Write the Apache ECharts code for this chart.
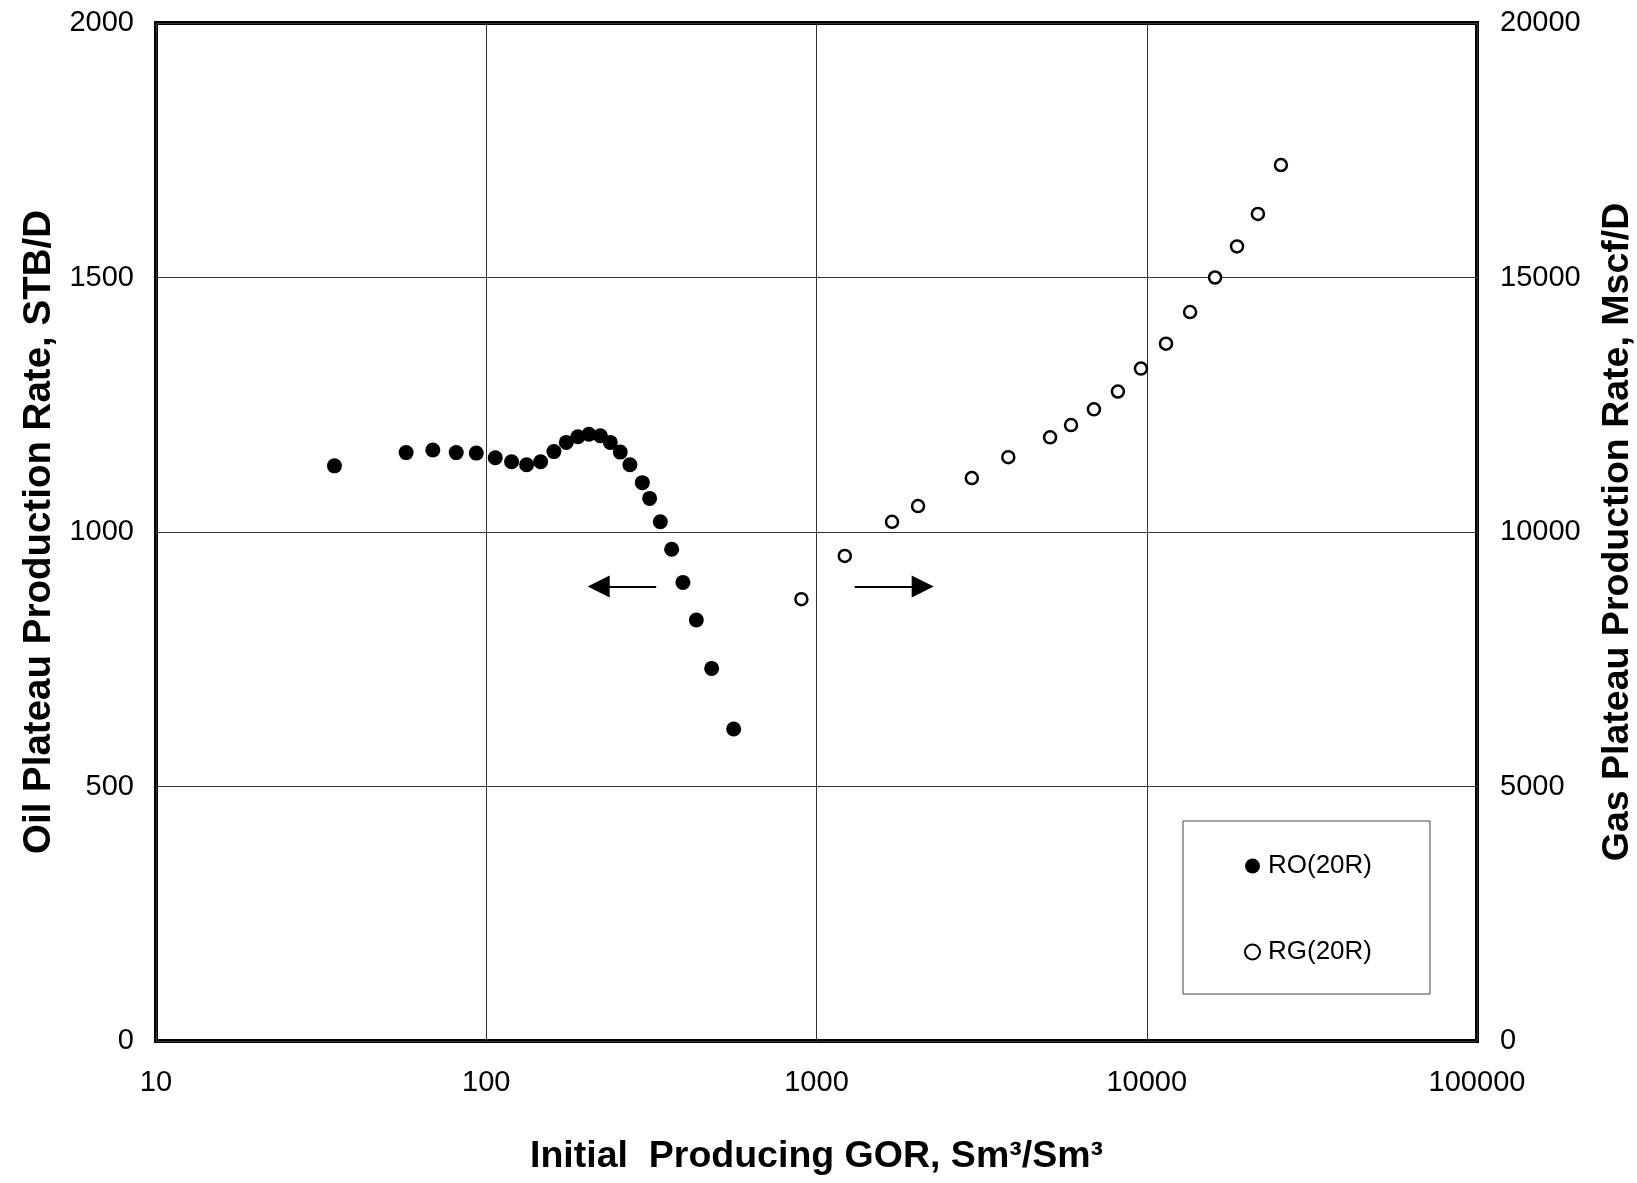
<!DOCTYPE html>
<html>
<head>
<meta charset="utf-8">
<title>Plateau Production Rate vs Initial Producing GOR</title>
<script src="https://cdn.jsdelivr.net/npm/echarts@6/dist/echarts.min.js"></script>
<style>
  html, body { margin: 0; padding: 0; background: #fff; }
  #chart { width: 1637px; height: 1183px; }
</style>
</head>
<body>
<div id="chart"></div>
<script>
// Initial producing GOR (Sm3/Sm3) and oil plateau rate (STB/D)
const oilGor  = [34.7, 57.2, 68.9, 81.1, 93.3, 106.5, 119.3, 132.5, 146.1, 160.3, 174.7, 189.4, 204.6,
                 221.5, 237.5, 254.6, 272.3, 296.9, 312.4, 336.6, 364.2, 394.0, 432.7, 481.4, 561.3];
const oilRate = [1130, 1156, 1161, 1156, 1155, 1146, 1138, 1132, 1138, 1158, 1176, 1187, 1192,
                 1189, 1176, 1157, 1132, 1097, 1066, 1020, 966, 901, 827, 732, 613];

// Initial producing GOR (Sm3/Sm3) and gas plateau rate (Mscf/D)
const gasGor  = [900, 1218, 1693, 2030, 2953, 3808, 5097, 5898, 6918, 8178, 9603, 11437, 13527,
                 16101, 18766, 21706, 25484];
const gasRate = [8680, 9530, 10200, 10510, 11060, 11470, 11860, 12100, 12410, 12760, 13210, 13700,
                 14320, 15000, 15610, 16250, 17210];

// Axis ticks
const xTicks = [10, 100, 1000, 10000, 100000];
const oilTicks = [0, 500, 1000, 1500, 2000];
const gasTicks = [0, 5000, 10000, 15000, 20000];

const seriesNames = ['RO(20R)', 'RG(20R)'];

// Direction arrows pointing each series to its axis (left-axis data units)
const arrowLeft  = { from: [327, 893], to: [219, 893] };
const arrowRight = { from: [1305, 893], to: [2097, 893] };

const FONT = '"Liberation Sans", Arial, sans-serif';

const chart = echarts.init(document.getElementById('chart'), null, { renderer: 'canvas' });

const oilData = oilGor.map((g, i) => [g, oilRate[i]]);
const gasData = gasGor.map((g, i) => [g, gasRate[i]]);

const titleStyle = { fontFamily: FONT, fontWeight: 'bold', color: '#000' };
const tickStyle = { fontFamily: FONT, fontSize: 29, color: '#000' };
const gridLine = { show: true, lineStyle: { color: '#333', width: 1, type: 'solid' } };

// Plain tick text, picked from the tick list (no thousands separators)
const tickText = list => v => {
  const t = list.find(k => Math.abs(k - v) <= Math.max(1e-6, Math.abs(k) * 1e-6));
  return t === undefined ? '' : String(t);
};

chart.setOption({
  animation: false,
  backgroundColor: '#fff',
  textStyle: { fontFamily: FONT },
  grid: {
    left: 156, right: 160, top: 23, bottom: 142,
    show: true, borderColor: '#000', borderWidth: 4, backgroundColor: 'transparent',
    containLabel: false,
    outerBoundsMode: 'none'
  },
  legend: {
    data: [
      { name: seriesNames[0], icon: 'circle' },
      { name: seriesNames[1], icon: 'circle' }
    ],
    orient: 'vertical',
    left: 1183, top: 821,
    padding: [32, 58, 29, 61],
    itemWidth: 15, itemHeight: 15,
    itemGap: 60,
    borderColor: '#444', borderWidth: 1,
    backgroundColor: '#fff',
    selectedMode: false,
    textStyle: { fontFamily: FONT, fontSize: 26, color: '#000', lineHeight: 26, padding: [0, 0, 0, 3] }
  },
  xAxis: {
    type: 'log', logBase: 10, min: xTicks[0], max: xTicks[xTicks.length - 1],
    name: 'Initial  Producing GOR, Sm\u00B3/Sm\u00B3',
    nameLocation: 'middle', nameGap: 97,
    nameTextStyle: { ...titleStyle, fontSize: 37.5 },
    axisLine: { show: false },
    axisTick: { show: false },
    axisLabel: { ...tickStyle, margin: 27, formatter: tickText(xTicks) },
    splitLine: gridLine,
    minorTick: { show: false },
    minorSplitLine: { show: false }
  },
  yAxis: [
    {
      type: 'value', position: 'left',
      min: oilTicks[0], max: oilTicks[oilTicks.length - 1], interval: oilTicks[1] - oilTicks[0],
      name: 'Oil Plateau Production Rate, STB/D',
      nameLocation: 'middle', nameRotate: 90, nameGap: 93,
      nameTextStyle: { ...titleStyle, fontSize: 38.5 },
      axisLine: { show: false },
      axisTick: { show: false },
      axisLabel: { ...tickStyle, margin: 22, formatter: tickText(oilTicks) },
      splitLine: gridLine
    },
    {
      type: 'value', position: 'right',
      min: gasTicks[0], max: gasTicks[gasTicks.length - 1], interval: gasTicks[1] - gasTicks[0],
      name: 'Gas Plateau Production Rate, Mscf/D',
      nameLocation: 'middle', nameRotate: 90, nameGap: 122,
      nameTextStyle: { ...titleStyle, fontSize: 37.5 },
      axisLine: { show: false },
      axisTick: { show: false },
      axisLabel: { ...tickStyle, margin: 23, formatter: tickText(gasTicks) },
      splitLine: { show: false }
    }
  ],
  series: [
    {
      name: seriesNames[0],
      type: 'scatter',
      xAxisIndex: 0, yAxisIndex: 0,
      symbol: 'circle', symbolSize: 15,
      itemStyle: { color: '#000', opacity: 1 },
      emphasis: { disabled: true },
      data: oilData,
      z: 3,
      markLine: {
        silent: true,
        animation: false,
        symbol: ['none', 'triangle'],
        symbolSize: 22,
        label: { show: false },
        lineStyle: { color: '#000', width: 2, type: 'solid', opacity: 1 },
        itemStyle: { color: '#000', opacity: 1 },
        emphasis: { disabled: true },
        data: [
          [{ coord: arrowLeft.from }, { coord: arrowLeft.to }],
          [{ coord: arrowRight.from }, { coord: arrowRight.to }]
        ]
      }
    },
    {
      name: seriesNames[1],
      type: 'scatter',
      xAxisIndex: 0, yAxisIndex: 1,
      symbol: 'circle', symbolSize: 12,
      itemStyle: { color: '#fff', borderColor: '#000', borderWidth: 2.5, opacity: 1 },
      emphasis: { disabled: true },
      data: gasData,
      z: 3
    }
  ]
});
</script>
</body>
</html>
